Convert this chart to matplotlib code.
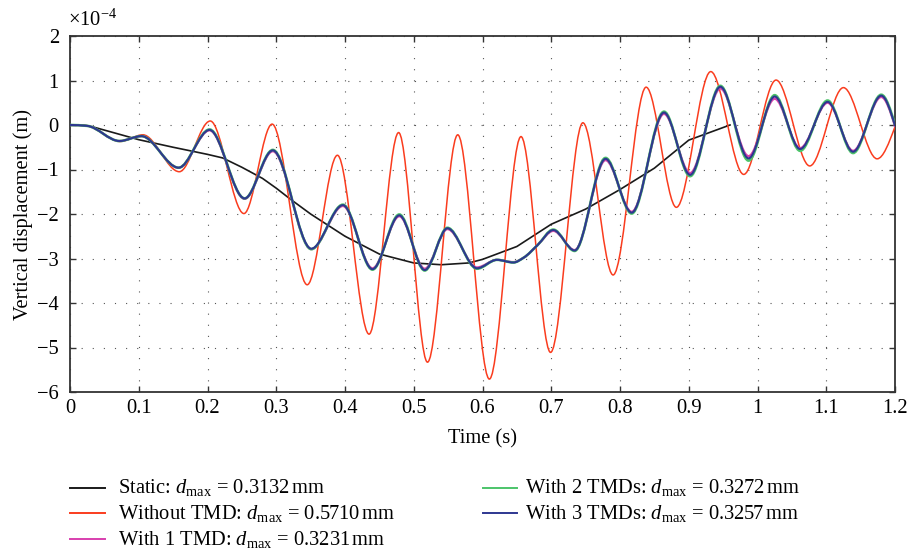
import numpy as np
import matplotlib
matplotlib.use("Agg")
import matplotlib.pyplot as plt
from matplotlib.path import Path
from matplotlib.patches import PathPatch
from matplotlib.lines import Line2D

# ---------------- data (vertical displacement in units of 1e-4 m) ----------------
t_static = [0, 0.02, 0.035, 0.1, 0.15, 0.2, 0.222, 0.25, 0.28, 0.3, 0.32, 0.35, 0.4,
            0.45, 0.5, 0.54, 0.58, 0.6, 0.65, 0.7, 0.75, 0.8, 0.85, 0.9, 0.96]
v_static = [0, 0, -0.05, -0.33, -0.5, -0.66, -0.74, -0.95, -1.2, -1.42, -1.66, -2.0, -2.5,
            -2.9, -3.1, -3.14, -3.1, -3.02, -2.73, -2.23, -1.89, -1.45, -0.97, -0.34, 0.0]

t_none = [0, 0.025, 0.073, 0.106, 0.159, 0.204, 0.253, 0.294, 0.345, 0.389, 0.435, 0.478,
          0.520, 0.564, 0.610, 0.656, 0.699, 0.746, 0.790, 0.838, 0.882, 0.932, 0.980,
          1.027, 1.076, 1.125, 1.174, 1.200]
v_none = [0, -0.02, -0.37, -0.22, -1.05, 0.09, -1.99, 0.02, -3.59, -0.68, -4.70, -0.17,
          -5.33, -0.22, -5.71, -0.26, -5.11, 0.05, -3.37, 0.85, -1.85, 1.20, -1.11,
          1.01, -0.92, 0.84, -0.76, -0.04]

t_tmd = [0, 0.025, 0.072, 0.104, 0.158, 0.203, 0.254, 0.295, 0.351, 0.397, 0.440, 0.479,
         0.516, 0.549, 0.592, 0.621, 0.645, 0.660, 0.680, 0.703, 0.734, 0.779, 0.817,
         0.864, 0.902, 0.946, 0.987, 1.025, 1.062, 1.102, 1.139, 1.180, 1.200]
v_tmd1 = [0, -0.02, -0.36, -0.25, -0.96, -0.12, -1.66, -0.59, -2.79, -1.82, -3.22, -2.05,
          -3.23, -2.34, -3.20, -3.03, -3.08, -2.98, -2.70, -2.38, -2.81, -0.79, -1.95,
          0.25, -1.08, 0.82, -0.70, 0.59, -0.52, 0.50, -0.58, 0.63, -0.03]
v_tmd2 = [0, -0.02, -0.36, -0.25, -0.96, -0.10, -1.65, -0.56, -2.79, -1.79, -3.25, -2.01,
          -3.27, -2.31, -3.23, -3.03, -3.09, -2.98, -2.70, -2.35, -2.83, -0.74, -1.99,
          0.30, -1.15, 0.88, -0.80, 0.67, -0.58, 0.55, -0.63, 0.68, 0.01]
v_tmd3 = [0, -0.02, -0.36, -0.25, -0.96, -0.11, -1.65, -0.57, -2.78, -1.80, -3.24, -2.03,
          -3.26, -2.32, -3.22, -3.03, -3.09, -2.98, -2.70, -2.36, -2.82, -0.76, -1.97,
          0.28, -1.12, 0.86, -0.75, 0.64, -0.54, 0.52, -0.60, 0.66, -0.01]

labels = [r"Static: $d_{\mathrm{max}}$ = 0.3132$\,$mm",
          r"Without TMD: $d_{\mathrm{max}}$ = 0.5710$\,$mm",
          r"With 1 TMD: $d_{\mathrm{max}}$ = 0.3231$\,$mm",
          r"With 2 TMDs: $d_{\mathrm{max}}$ = 0.3272$\,$mm",
          r"With 3 TMDs: $d_{\mathrm{max}}$ = 0.3257$\,$mm"]
colors = ["#1a1a1a", "#FA3C1E", "#D83FAE", "#4CC46A", "#2E3790"]

x_ticks = [0, 0.1, 0.2, 0.3, 0.4, 0.5, 0.6, 0.7, 0.8, 0.9, 1.0, 1.1, 1.2]
x_tick_labels = ["0", "0.1", "0.2", "0.3", "0.4", "0.5", "0.6", "0.7", "0.8", "0.9", "1", "1.1", "1.2"]
y_ticks = [-6, -5, -4, -3, -2, -1, 0, 1, 2]
y_tick_labels = ["\u22126", "\u22125", "\u22124", "\u22123", "\u22122", "\u22121", "0", "1", "2"]

# ---------------- style ----------------
plt.rcParams["font.family"] = ["Liberation Serif", "DejaVu Serif"]
plt.rcParams["mathtext.fontset"] = "custom"
plt.rcParams["mathtext.rm"] = "Liberation Serif"
plt.rcParams["mathtext.it"] = "Liberation Serif:italic"
FS = 14.8


def smooth_path(t, v):
    """Cubic Bezier path through the read points (monotone Hermite tangents)."""
    t = np.asarray(t, float)
    v = np.asarray(v, float)
    h = np.diff(t)
    d = np.diff(v) / h
    m = np.zeros_like(v)
    for i in range(1, len(v) - 1):
        if d[i - 1] * d[i] > 0:
            w1 = 2 * h[i] + h[i - 1]
            w2 = h[i] + 2 * h[i - 1]
            m[i] = (w1 + w2) / (w1 / d[i - 1] + w2 / d[i])
    m[0] = 0.0
    m[-1] = 1.5 * d[-1]
    verts = [(t[0], v[0])]
    codes = [Path.MOVETO]
    for i in range(len(h)):
        verts += [(t[i] + h[i] / 3, v[i] + m[i] * h[i] / 3),
                  (t[i + 1] - h[i] / 3, v[i + 1] - m[i + 1] * h[i] / 3),
                  (t[i + 1], v[i + 1])]
        codes += [Path.CURVE4] * 3
    return Path(verts, codes)


fig = plt.figure(figsize=(9.11, 5.54), dpi=100)
ax = fig.add_axes([70 / 911, 1 - 392 / 554, 825 / 911, 356 / 554])

ax.plot(t_static, v_static, color=colors[0], lw=1.2, zorder=3)
for tt, vv, c, lw, z in [(t_none, v_none, colors[1], 1.1, 4),
                         (t_tmd, v_tmd1, colors[2], 1.6, 5),
                         (t_tmd, v_tmd2, colors[3], 1.9, 6),
                         (t_tmd, v_tmd3, colors[4], 1.5, 7)]:
    ax.add_patch(PathPatch(smooth_path(tt, vv), fill=False, edgecolor=c, lw=lw,
                           zorder=z, capstyle="round", joinstyle="round"))

ax.set_xlim(0, 1.2)
ax.set_ylim(-6, 2)
ax.set_xticks(x_ticks)
ax.set_xticklabels(x_tick_labels)
ax.set_yticks(y_ticks)
ax.set_yticklabels(y_tick_labels)
ax.tick_params(direction="in", length=4, width=1.0, color="#333333",
               top=True, right=True, labelsize=FS)
ax.tick_params(axis="x", pad=5)
ax.tick_params(axis="y", pad=8)
ax.grid(True, color="#555555", lw=0.8, linestyle=(0, (1, 9)))
for s in ax.spines.values():
    s.set_linewidth(1.3)
    s.set_color("#333333")

ax.set_xlabel("Time (s)", fontsize=FS)
ax.set_ylabel("Vertical displacement (m)", fontsize=FS)
ax.xaxis.set_label_coords(0.5, -0.104)
ax.yaxis.set_label_coords(-0.045, 0.5)
ax.text(-0.002, 1.028, r"$\times10^{-4}$", transform=ax.transAxes, fontsize=FS,
        ha="left", va="baseline")

# ---------------- legend (below the axes, two columns) ----------------
entries = [(70, 105, 118, 488), (70, 105, 118, 513), (70, 105, 118, 539),
           (483, 517, 525, 488), (483, 517, 525, 513)]
for (x0, x1, xt, yl), lab, c in zip(entries, labels, colors):
    fig.add_artist(Line2D([x0 / 911, x1 / 911], [1 - yl / 554, 1 - yl / 554],
                          transform=fig.transFigure, color=c, lw=1.4))
    fig.text(xt / 911, 1 - (yl + 5.5) / 554, lab, fontsize=FS, ha="left", va="baseline")

fig.savefig("out.png", dpi=100)
